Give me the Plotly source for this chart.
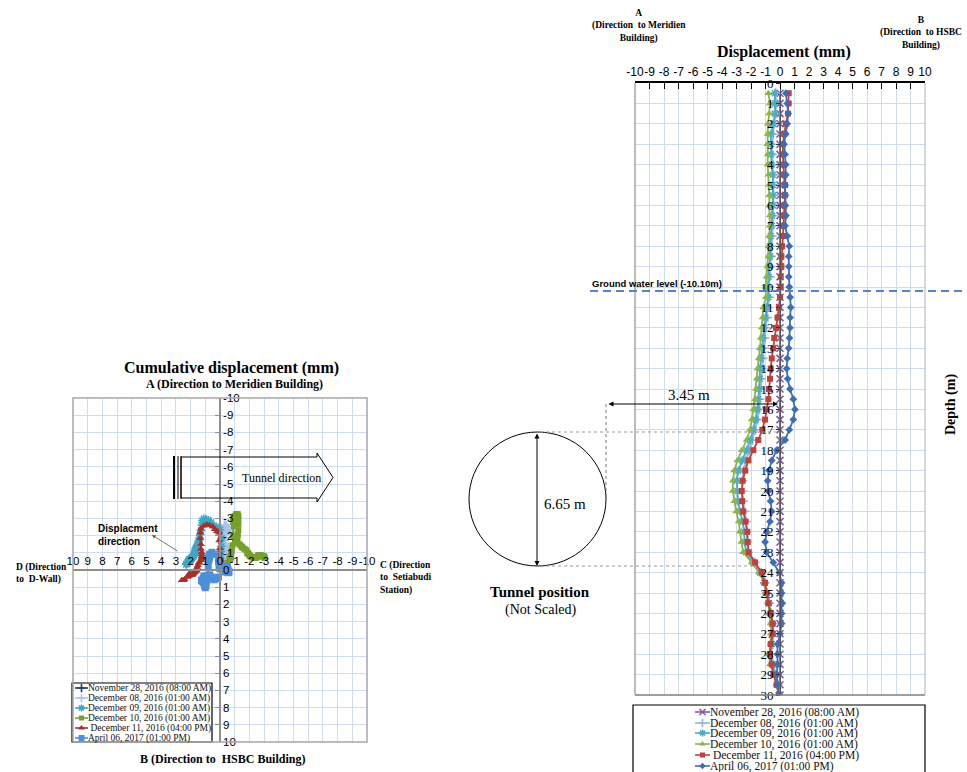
import plotly.graph_objects as go

W, H = 967, 772
SERIF = "Liberation Serif, Times New Roman, serif"
SANS = "Liberation Sans, Arial, sans-serif"

# ---------------- data ----------------
DEPTH = [0.5, 1.0, 1.5, 2.0, 2.5, 3.0, 3.5, 4.0, 4.5, 5.0,
         5.5, 6.0, 6.5, 7.0, 7.5, 8.0, 8.5, 9.0, 9.5, 10.0,
         10.5, 11.0, 11.5, 12.0, 12.5, 13.0, 13.5, 14.0, 14.5, 15.0,
         15.5, 16.0, 16.5, 17.0, 17.5, 18.0, 18.5, 19.0, 19.5, 20.0,
         20.5, 21.0, 21.5, 22.0, 22.5, 23.0, 23.5, 24.0, 24.5, 25.0,
         25.5, 26.0, 26.5, 27.0, 27.5, 28.0, 28.5, 29.0, 29.5, 30.0]

SERIES = ["November 28, 2016 (08:00 AM)", "December 08, 2016 (01:00 AM)",
          "December 09, 2016 (01:00 AM)", "December 10, 2016 (01:00 AM)",
          "\u00a0December 11, 2016 (04:00 PM)", "April 06, 2017 (01:00 PM)"]

# A-B displacement (mm), negative = toward A (Meridien), positive = toward B (HSBC)
AB_NOV28 = [0.0, 0.0, 0.0, 0.0, 0.0, 0.0, 0.0, 0.0, 0.0, 0.0,
            0.0, 0.0, 0.0, 0.0, 0.0, 0.0, 0.0, 0.0, 0.0, 0.0,
            0.0, 0.0, 0.0, 0.0, 0.0, 0.0, 0.0, 0.0, 0.0, 0.0,
            0.0, 0.0, 0.0, 0.0, 0.0, 0.0, 0.0, 0.0, 0.0, 0.0,
            0.0, 0.0, 0.0, 0.0, 0.0, 0.0, 0.0, 0.0, 0.0, 0.0,
            0.0, 0.0, 0.0, 0.0, 0.0, 0.0, 0.0, 0.0, 0.0, 0.0]
AB_DEC08 = [-0.30, -0.30, -0.30, -0.40, -0.50, -0.55, -0.55, -0.50, -0.45, -0.45,
            -0.45, -0.45, -0.50, -0.50, -0.55, -0.60, -0.60, -0.65, -0.70, -0.75,
            -0.75, -0.85, -0.90, -1.00, -1.05, -1.10, -1.20, -1.25, -1.30, -1.35,
            -1.40, -1.45, -1.55, -1.70, -1.90, -2.10, -2.35, -2.50, -2.60, -2.60,
            -2.55, -2.45, -2.35, -2.30, -2.25, -2.20, -1.75, -1.30, -1.05, -0.90,
            -0.75, -0.60, -0.50, -0.45, -0.50, -0.60, -0.45, -0.30, -0.15, -0.05]
AB_DEC09 = [-0.35, -0.33, -0.35, -0.46, -0.62, -0.64, -0.62, -0.58, -0.50, -0.50,
            -0.48, -0.50, -0.55, -0.58, -0.64, -0.69, -0.69, -0.74, -0.78, -0.85,
            -0.80, -0.92, -1.00, -1.10, -1.18, -1.26, -1.32, -1.38, -1.40, -1.43,
            -1.50, -1.56, -1.68, -1.84, -2.05, -2.30, -2.60, -2.87, -2.98, -2.94,
            -2.90, -2.76, -2.57, -2.48, -2.44, -2.34, -1.84, -1.38, -1.08, -0.92,
            -0.76, -0.64, -0.55, -0.50, -0.57, -0.69, -0.50, -0.34, -0.18, -0.07]
AB_DEC10 = [-0.80, -0.70, -0.74, -0.83, -0.85, -0.87, -0.85, -0.85, -0.80, -0.76,
            -0.74, -0.74, -0.70, -0.70, -0.74, -0.78, -0.80, -0.87, -0.92, -1.00,
            -0.97, -1.15, -1.20, -1.26, -1.33, -1.38, -1.47, -1.54, -1.60, -1.65,
            -1.72, -1.84, -1.95, -2.07, -2.30, -2.64, -2.94, -3.15, -3.25, -3.25,
            -3.15, -3.02, -2.85, -2.78, -2.66, -2.55, -1.95, -1.43, -1.10, -0.97,
            -0.80, -0.74, -0.64, -0.62, -0.64, -0.76, -0.69, -0.41, -0.23, -0.07]
AB_DEC11 = [0.60, 0.60, 0.55, 0.40, 0.30, 0.20, 0.20, 0.25, 0.30, 0.35,
            0.35, 0.30, 0.30, 0.25, 0.20, 0.15, 0.10, 0.10, 0.05, 0.05,
            0.00, -0.07, -0.17, -0.28, -0.40, -0.46, -0.57, -0.64, -0.69, -0.76,
            -0.80, -0.92, -1.03, -1.22, -1.50, -1.84, -2.18, -2.40, -2.57, -2.64,
            -2.60, -2.53, -2.37, -2.25, -2.23, -2.16, -1.72, -1.26, -1.03, -0.92,
            -0.80, -0.64, -0.50, -0.50, -0.64, -0.69, -0.57, -0.46, -0.23, -0.09]
AB_APR06 = [0.41, 0.50, 0.57, 0.50, 0.40, 0.28, 0.35, 0.40, 0.40, 0.35,
            0.37, 0.37, 0.41, 0.35, 0.50, 0.64, 0.60, 0.60, 0.60, 0.64,
            0.70, 0.74, 0.70, 0.69, 0.65, 0.60, 0.50, 0.46, 0.53, 0.69,
            0.92, 1.03, 0.92, 0.64, 0.35, -0.23, -0.57, -0.76, -0.85, -0.80,
            -0.65, -0.57, -0.69, -0.92, -1.03, -0.92, -0.46, -0.05, 0.11, 0.11,
            0.16, 0.11, 0.11, 0.00, -0.16, -0.18, -0.16, -0.23, -0.16, -0.07]

# C-D displacement (mm), positive = toward D (D-Wall), negative = toward C (Setiabudi)
CD_NOV28 = [0.0, 0.0, 0.0, 0.0, 0.0, 0.0, 0.0, 0.0, 0.0, 0.0,
            0.0, 0.0, 0.0, 0.0, 0.0, 0.0, 0.0, 0.0, 0.0, 0.0,
            0.0, 0.0, 0.0, 0.0, 0.0, 0.0, 0.0, 0.0, 0.0, 0.0,
            0.0, 0.0, 0.0, 0.0, 0.0, 0.0, 0.0, 0.0, 0.0, 0.0,
            0.0, 0.0, 0.0, 0.0, 0.0, 0.0, 0.0, 0.0, 0.0, 0.0,
            0.0, 0.0, 0.0, 0.0, 0.0, 0.0, 0.0, 0.0, 0.0, 0.0]
CD_DEC08 = [-0.20, -0.20, -0.25, -0.25, -0.30, -0.30, -0.30, -0.35, -0.35, -0.35,
            -0.40, -0.40, -0.40, -0.45, -0.45, -0.45, -0.50, -0.50, -0.50, -0.55,
            -0.55, -0.55, -0.60, -0.60, -0.60, -0.55, -0.55, -0.50, -0.45, -0.40,
            -0.35, -0.30, -0.30, -0.30, -0.35, -0.40, -0.40, -0.35, -0.30, -0.35,
            -0.45, -0.55, -0.60, -0.55, -0.45, -0.35, -0.25, -0.20, -0.15, -0.15,
            -0.10, -0.10, -0.10, -0.05, -0.05, -0.05, -0.05, 0.00, 0.00, 0.00]
CD_DEC09 = [2.30, 2.30, 2.25, 2.20, 2.10, 2.05, 2.05, 2.10, 2.15, 2.10,
            2.10, 2.05, 2.00, 2.00, 1.95, 1.95, 1.90, 1.90, 1.85, 1.80,
            1.80, 1.75, 1.70, 1.70, 1.65, 1.65, 1.60, 1.55, 1.55, 1.50,
            1.50, 1.45, 1.45, 1.40, 1.35, 1.30, 1.25, 1.20, 1.10, 0.95,
            0.80, 0.60, 0.40, 0.25, 0.10, 0.00, -0.10, -0.10, -0.05, 0.00,
            0.00, 0.05, 0.05, 0.05, 0.00, 0.00, 0.00, 0.00, 0.00, 0.00]
CD_DEC10 = [-3.00, -3.05, -3.00, -2.90, -2.80, -2.70, -2.65, -2.60, -2.60, -2.55,
            -2.50, -2.50, -2.40, -2.30, -2.20, -2.10, -2.05, -2.00, -1.95, -1.90,
            -1.85, -1.80, -1.70, -1.60, -1.50, -1.45, -1.35, -1.25, -1.15, -1.10,
            -1.10, -1.15, -1.20, -1.20, -1.25, -1.25, -1.25, -1.25, -1.20, -1.10,
            -1.00, -0.90, -0.90, -0.90, -0.95, -0.95, -0.90, -0.85, -0.80, -0.75,
            -0.70, -0.70, -0.65, -0.65, -0.70, -0.75, -0.70, -0.50, -0.30, -0.10]
CD_DEC11 = [2.60, 2.50, 2.40, 2.20, 2.10, 2.00, 2.05, 2.10, 2.15, 2.20,
            2.10, 2.00, 1.90, 1.85, 1.80, 1.75, 1.70, 1.70, 1.65, 1.60,
            1.60, 1.60, 1.55, 1.50, 1.45, 1.40, 1.30, 1.25, 1.25, 1.25,
            1.25, 1.25, 1.25, 1.30, 1.30, 1.35, 1.35, 1.30, 1.10, 0.90,
            0.70, 0.50, 0.35, 0.20, 0.10, 0.05, 0.05, 0.00, 0.05, 0.10,
            0.10, 0.10, 0.05, 0.00, 0.00, 0.00, 0.00, 0.00, 0.00, 0.00]
CD_APR06 = [0.10, 0.25, 0.40, 0.50, 0.60, 0.70, 0.75, 0.80, 0.85, 0.90,
            0.95, 1.00, 1.05, 1.10, 1.15, 1.20, 1.20, 1.25, 1.25, 1.20,
            1.15, 1.10, 1.10, 1.05, 1.00, 0.95, 0.90, 0.90, 0.95, 1.00,
            1.05, 1.00, 0.95, 0.90, 0.85, 0.80, 0.75, 0.70, 0.70, 0.75,
            0.80, 0.80, 0.75, 0.70, 0.55, 0.35, 0.10, -0.15, -0.35, -0.45,
            -0.55, -0.60, -0.60, -0.55, -0.50, -0.40, -0.30, -0.20, -0.10, 0.00]

TICKS_DISP = [-10, -9, -8, -7, -6, -5, -4, -3, -2, -1, 0, 1, 2, 3, 4, 5, 6, 7, 8, 9, 10]
TICKTEXT_DISP = ["-10", "-9", "-8", "-7", "-6", "-5", "-4", "-3", "-2", "-1", "0",
                 "1", "2", "3", "4", "5", "6", "7", "8", "9", "10"]
TICKS_DEPTH = [0, 1, 2, 3, 4, 5, 6, 7, 8, 9, 10, 11, 12, 13, 14, 15, 16, 17, 18, 19, 20,
               21, 22, 23, 24, 25, 26, 27, 28, 29, 30]

AB_ALL = [AB_NOV28, AB_DEC08, AB_DEC09, AB_DEC10, AB_DEC11, AB_APR06]
CD_ALL = [CD_NOV28, CD_DEC08, CD_DEC09, CD_DEC10, CD_DEC11, CD_APR06]

# ---------------- styles ----------------
R_COLORS = ["#7D5BA6", "#9BB7E0", "#4BACC6", "#8DB544", "#C0413C", "#3D6DB5"]
R_SYMBOLS = ["x-thin", "cross-thin", "asterisk", "triangle-up", "square", "diamond"]
R_SIZES = [7, 7, 7, 7, 6, 6]
L_COLORS = ["#203D73", "#A9C4EB", "#3FA7C4", "#76A02C", "#A8302B", "#4C8FDB"]
L_SYMBOLS = ["cross-thin", "cross-thin", "asterisk", "square", "triangle-up", "square"]
L_SIZES = [7, 7, 7, 6, 7, 7]
GRID = "#CFDBEF"


def mk(sym, size, col):
    thin = sym in ("x-thin", "cross-thin", "asterisk")
    return dict(symbol=sym, size=size, color=col,
                line=dict(width=1.6 if thin else 0, color=col))


fig = go.Figure()

# left chart: plan view of cumulative displacement
for i in range(6):
    fig.add_trace(go.Scatter(x=CD_ALL[i], y=AB_ALL[i], xaxis="x", yaxis="y",
                             mode="lines+markers", name=SERIES[i], showlegend=False,
                             line=dict(color=L_COLORS[i], width=2),
                             marker=mk(L_SYMBOLS[i], L_SIZES[i], L_COLORS[i])))

# right chart: A-B displacement vs depth
for i in range(6):
    fig.add_trace(go.Scatter(x=AB_ALL[i], y=DEPTH, xaxis="x2", yaxis="y2",
                             mode="lines+markers", name=SERIES[i], showlegend=False,
                             line=dict(color=R_COLORS[i], width=1.8),
                             marker=mk(R_SYMBOLS[i], R_SIZES[i], R_COLORS[i])))


def px(x):
    return x / W


def py(y):
    return 1 - y / H


# manual legends on the pixel overlay axes
def legend(x0, x1, xt, rows, colors, symbols, sizes, fsize):
    for i in range(6):
        fig.add_trace(go.Scatter(x=[x0, x1], y=[rows[i], rows[i]], xaxis="x3", yaxis="y3",
                                 mode="lines", showlegend=False, hoverinfo="skip",
                                 line=dict(color=colors[i], width=1.6)))
        fig.add_trace(go.Scatter(x=[(x0 + x1) / 2], y=[rows[i]], xaxis="x3", yaxis="y3",
                                 mode="markers", showlegend=False, hoverinfo="skip",
                                 marker=mk(symbols[i], sizes[i] - 1, colors[i])))
        fig.add_annotation(xref="x3", yref="y3", x=xt, y=rows[i], text=SERIES[i],
                           showarrow=False, xanchor="left", yanchor="middle", borderpad=0,
                           font=dict(family=SERIF, size=fsize, color="#111"))


legend(75, 88, 87, [688, 698, 708, 718, 728, 738], L_COLORS, L_SYMBOLS, L_SIZES, 9.5)
legend(695, 710, 709, [712, 723, 733, 744, 755, 766], R_COLORS, R_SYMBOLS, R_SIZES, 11.5)

axfont = dict(family=SANS, size=12, color="black")
fig.update_layout(
    width=W, height=H, autosize=False,
    margin=dict(l=0, r=0, t=0, b=0, autoexpand=False),
    paper_bgcolor="white", plot_bgcolor="rgba(0,0,0,0)",
    showlegend=False,
    xaxis=dict(domain=[px(73), px(367)], range=[10, -10], anchor="free", position=py(570),
               side="top", tickvals=TICKS_DISP, ticktext=TICKTEXT_DISP, ticks="",
               showgrid=True, gridcolor=GRID,
               zeroline=False, showline=True, linecolor="#8E8E8E", linewidth=1.5,
               tickangle=0, automargin=False,
               tickfont=dict(family=SANS, size=11.5, color="black"), fixedrange=True),
    yaxis=dict(domain=[py(742), py(398)], range=[10, -10], anchor="free", position=px(220),
               side="right", tickvals=TICKS_DISP, ticktext=TICKTEXT_DISP, ticks="inside",
               ticklen=4, tickcolor="#8E8E8E",
               showgrid=True, gridcolor=GRID, zeroline=False, showline=True,
               linecolor="#8E8E8E", linewidth=1.5, tickangle=0, automargin=False,
               tickfont=dict(family=SANS, size=11.5, color="black"), fixedrange=True),
    xaxis2=dict(domain=[px(635), px(925)], range=[-10, 10], anchor="y2", side="top",
                tickvals=TICKS_DISP, ticktext=TICKTEXT_DISP, ticks="inside", ticklen=6,
                tickcolor="black",
                showgrid=True, gridcolor=GRID, zeroline=False, showline=True,
                linecolor="black", linewidth=1.5, tickangle=0, automargin=False,
                tickfont=axfont, fixedrange=True),
    yaxis2=dict(domain=[py(695), py(83)], range=[30, 0], anchor="free", position=px(780),
                side="left", tickvals=TICKS_DEPTH, ticks="outside", ticklen=4, tickcolor="#333",
                showgrid=True, gridcolor=GRID, zeroline=False, showline=True,
                linecolor="#555", linewidth=1, tickangle=0, automargin=False,
                tickfont=dict(family=SERIF, size=13, color="black"), fixedrange=True),
    xaxis3=dict(domain=[0, 1], range=[0, W], anchor="y3", visible=False, fixedrange=True,
                automargin=False),
    yaxis3=dict(domain=[0, 1], range=[H, 0], anchor="x3", visible=False, fixedrange=True,
                automargin=False),
)


# ---------------- decorations (pixel overlay) ----------------
def line(x0, y0, x1, y1, color="black", width=1, dash="solid"):
    fig.add_shape(type="line", xref="x3", yref="y3", x0=x0, y0=y0, x1=x1, y1=y1,
                  line=dict(color=color, width=width, dash=dash))


def text(x, y, s, size, bold=False, family=SERIF, xanchor="center", angle=0, color="black"):
    fig.add_annotation(xref="x3", yref="y3", x=x, y=y, text=("<b>%s</b>" % s) if bold else s,
                       showarrow=False, xanchor=xanchor, yanchor="middle", textangle=angle,
                       align="left" if xanchor == "left" else "center", borderpad=0,
                       font=dict(family=family, size=size, color=color))


def arrow(hx, hy, tx, ty, both=False, color="black", width=1, head=2, size=1.0):
    fig.add_annotation(xref="x3", yref="y3", axref="x3", ayref="y3", x=hx, y=hy, ax=tx, ay=ty,
                       text="", showarrow=True, arrowhead=head, startarrowhead=head,
                       arrowside="end+start" if both else "end", arrowwidth=width,
                       arrowcolor=color, arrowsize=size, startarrowsize=size,
                       font=dict(size=1))


# left chart frame
fig.add_shape(type="rect", xref="x3", yref="y3", x0=73, y0=398, x1=367, y1=742,
              line=dict(color="#A6A6A6", width=1.5))
# left legend box
fig.add_shape(type="rect", xref="x3", yref="y3", x0=72, y0=683, x1=212, y1=742,
              line=dict(color="black", width=1.2), fillcolor="white", layer="below")
# right legend box
fig.add_shape(type="rect", xref="x3", yref="y3", x0=633, y0=705, x1=925, y1=790,
              line=dict(color="black", width=1.2), fillcolor="white", layer="below")
# right chart frame
line(635, 83, 635, 695, "#A6A6A6", 1.5)
line(925, 83, 925, 695, "#BFBFBF", 1.2)
line(635, 695, 925, 695, "#7F7F7F", 1.5)

# tunnel direction arrow
fig.add_shape(type="path", xref="x3", yref="y3",
              path="M 181 457 L 317 457 L 317 453 L 333 477.5 L 317 502 L 317 498 L 181 498 Z",
              line=dict(color="black", width=1))
line(174, 456, 174, 499, "black", 2)
line(178, 456, 178, 499, "black", 1)
line(181, 456, 181, 499, "black", 1)
text(281, 478, "Tunnel direction", 12)

# left chart texts
text(231, 368, "Cumulative displacement (mm)", 16, bold=True)
text(234, 384, "A (Direction to Meridien Building)", 12, bold=True)
text(222, 759, "B (Direction to  HSBC Building)", 12, bold=True)
text(15, 573, "D (Direction<br>to  D-Wall)", 9.5, bold=True, xanchor="left")
text(379, 578, "C (Direction<br>to  Setiabudi<br>Station)", 9.5, bold=True, xanchor="left")
text(97, 535, "Displacment<br>direction", 10, bold=True, family=SANS, xanchor="left")
arrow(152, 535, 179, 552, color="#555", width=0.8, head=2, size=0.9)

# right chart texts
text(639, 26, "A<br>(Direction  to Meridien<br>Building)", 9.5, bold=True)
text(921, 33, "B<br>(Direction  to HSBC<br>Building)", 9.5, bold=True)
text(784, 52, "Displacement (mm)", 16, bold=True)
text(951, 405, "Depth (m)", 14, bold=True, angle=-90)

# ground water level
line(590, 291, 967, 291, "#4F86CF", 2, "8px,5px")
text(591, 283, "Ground water level (-10.10m)", 9.5, bold=True, family=SANS, xanchor="left")

# tunnel sketch
fig.add_shape(type="circle", xref="x3", yref="y3", x0=469, y0=432, x1=606, y1=566,
              line=dict(color="black", width=1))
arrow(537, 566, 537, 432, both=True, width=1, head=2, size=1.0)
text(565, 504, "6.65 m", 15)
arrow(778, 404, 607, 404, both=True, width=1, head=2, size=1.0)
text(689, 395, "3.45 m", 15)
line(606, 404, 606, 497, "#777", 1, "dot")
line(540, 432, 780, 432, "#999", 1, "dot")
line(540, 566, 757, 566, "#999", 1, "dot")
text(540, 592, "Tunnel position", 15, bold=True)
text(540, 610, "(Not Scaled)", 14)

fig.write_html("out.html", config={"displayModeBar": False},
               post_script="document.body.style.margin='0';")
